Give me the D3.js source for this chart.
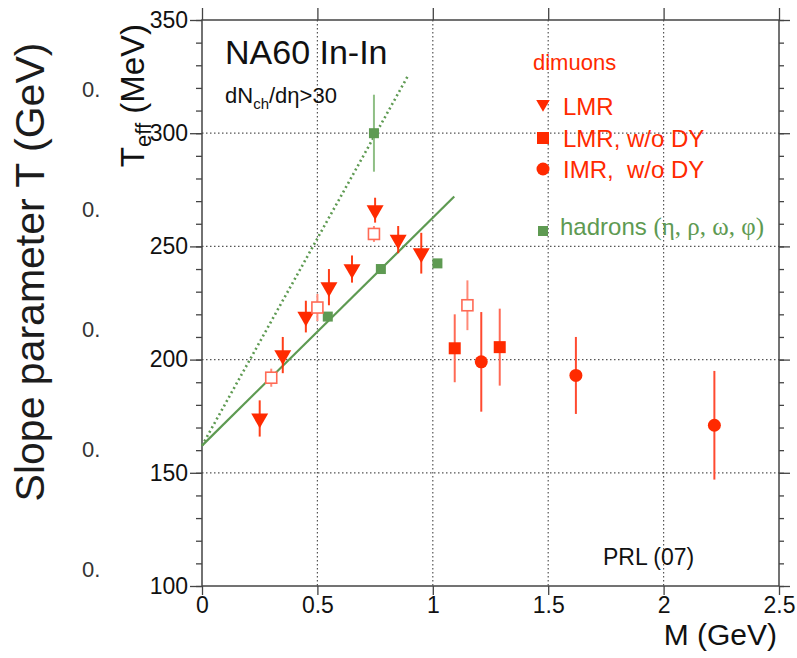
<!DOCTYPE html>
<html><head><meta charset="utf-8">
<script src="https://cdn.jsdelivr.net/npm/d3@7"></script>
<style>
html,body{margin:0;padding:0;background:#fff;}
svg{display:block;}
text{font-family:"Liberation Sans",Arial,sans-serif;}
</style></head>
<body>
<script>
// ---- data ----
const xTicks = [0, 0.5, 1, 1.5, 2, 2.5];
const xTickLabels = ["0", "0.5", "1", "1.5", "2", "2.5"];
const yTicks = [100, 150, 200, 250, 300, 350];
const yTickLabels = ["100", "150", "200", "250", "300", "350"];
const yMinor = d3.range(100, 351, 10);
const lmrM = [0.25, 0.35, 0.45, 0.55, 0.65, 0.75, 0.85, 0.95];
const lmrT = [174, 202, 219, 232, 240, 266, 253, 247];
const lmrErr = [8, 8, 7, 8, 6, 5.5, 6, 9];
const openM = [0.30, 0.50, 0.745, 1.15];
const openT = [192, 223, 255.5, 224];
const openErr = [4, 6, 3.5, 11];
const sqM = [1.095, 1.29];
const sqT = [205, 205.5];
const sqErr = [15, 17];
const imrM = [1.21, 1.62, 2.22];
const imrT = [199, 193, 171];
const imrErr = [22, 17, 24];
const hadM = [0.545, 0.745, 0.775, 1.02];
const hadT = [219, 300, 240, 242.5];
const hadErr = [0, 17, 0, 0];
const fitSolidM = [0, 1.093];
const fitSolidT = [162, 272];
const fitDotM = [0, 0.896];
const fitDotT = [162, 326];
const leftLabels = ["0.", "0.", "0.", "0.", "0."];

const RED = "#ff2a00", GREEN = "#5e9a52";
const W = 797, H = 658;
const svg = d3.select("body").append("svg").attr("width", W).attr("height", H);
const x = d3.scaleLinear().domain([0, 2.5]).range([202, 779]);
const y = d3.scaleLinear().domain([100, 350]).range([586, 20]);

// grid
const g = svg.append("g");
g.selectAll(".vg").data([0.5, 1, 1.5, 2]).join("line")
  .attr("x1", d => x(d)).attr("x2", d => x(d)).attr("y1", y(350)).attr("y2", y(100))
  .attr("stroke", "#555").attr("stroke-width", 1.2).attr("stroke-dasharray", "1.5,2.5");
g.selectAll(".hg").data([150, 200, 250, 300]).join("line")
  .attr("x1", x(0)).attr("x2", x(2.5)).attr("y1", d => y(d)).attr("y2", d => y(d))
  .attr("stroke", "#555").attr("stroke-width", 1.2).attr("stroke-dasharray", "1.5,2.5");

// axes
const axC = "#444";
const yl = d3.axisLeft(y).tickValues(yMinor).tickSize(6).tickFormat("");
svg.append("g").attr("transform", `translate(${x(0)},0)`).call(yl)
  .call(s => { s.select(".domain").remove(); s.selectAll("line").attr("stroke", axC).attr("stroke-width", 1.3); });
const ylM = d3.axisLeft(y).tickValues(yTicks).tickSize(12).tickPadding(2).tickFormat((d, i) => yTickLabels[i]);
svg.append("g").attr("transform", `translate(${x(0)},0)`).call(ylM)
  .call(s => { s.select(".domain").remove(); s.selectAll("line").attr("stroke", axC).attr("stroke-width", 1.3);
    s.selectAll("text").attr("font-size", 23).attr("fill", "#111").attr("font-family", "Liberation Sans"); });
const yr = d3.axisRight(y).tickValues(yMinor).tickSize(5).tickFormat("");
svg.append("g").attr("transform", `translate(${x(2.5)},0)`).call(yr)
  .call(s => { s.select(".domain").remove(); s.selectAll("line").attr("stroke", axC).attr("stroke-width", 1.3); });
const yrM = d3.axisRight(y).tickValues(yTicks).tickSize(11).tickFormat("");
svg.append("g").attr("transform", `translate(${x(2.5)},0)`).call(yrM)
  .call(s => { s.select(".domain").remove(); s.selectAll("line").attr("stroke", axC).attr("stroke-width", 1.3); });
const xb = d3.axisBottom(x).tickValues(xTicks).tickSize(9).tickPadding(2).tickFormat((d, i) => xTickLabels[i]);
svg.append("g").attr("transform", `translate(0,${y(100)})`).call(xb)
  .call(s => { s.select(".domain").remove(); s.selectAll("line").attr("stroke", axC).attr("stroke-width", 1.3);
    s.selectAll("text").attr("font-size", 23).attr("fill", "#111").attr("font-family", "Liberation Sans"); });
const xt = d3.axisTop(x).tickValues(xTicks).tickSize(12).tickFormat("");
svg.append("g").attr("transform", `translate(0,${y(350)})`).call(xt)
  .call(s => { s.select(".domain").remove(); s.selectAll("line").attr("stroke", axC).attr("stroke-width", 1.3); });
// frame
svg.append("rect").attr("x", x(0)).attr("y", y(350)).attr("width", x(2.5) - x(0)).attr("height", y(100) - y(350))
  .attr("fill", "none").attr("stroke", axC).attr("stroke-width", 1.5);

// fit lines
const line = d3.line().x(d => x(d[0])).y(d => y(d[1]));
svg.append("path").datum(fitSolidM.map((m, i) => [m, fitSolidT[i]])).attr("d", line)
  .attr("stroke", GREEN).attr("stroke-width", 2.2).attr("fill", "none");
svg.append("path").datum(fitDotM.map((m, i) => [m, fitDotT[i]])).attr("d", line)
  .attr("stroke", GREEN).attr("stroke-width", 2.6).attr("stroke-dasharray", "2,3").attr("fill", "none");

// error bars
function errBars(ms, ts, es, color, op) {
  svg.append("g").selectAll("line").data(ms.map((m, i) => ({m, t: ts[i], e: es[i]})).filter(d => d.e > 0)).join("line")
    .attr("x1", d => x(d.m)).attr("x2", d => x(d.m)).attr("y1", d => y(d.t - d.e)).attr("y2", d => y(d.t + d.e))
    .attr("stroke", color).attr("stroke-width", 2).attr("opacity", op);
}
errBars(hadM, hadT, hadErr, "#8fbf85", 1);
errBars(lmrM, lmrT, lmrErr, RED, 0.9);
errBars(openM, openT, openErr, "#ff8a78", 1);
errBars(sqM, sqT, sqErr, "#ff6a55", 1);
errBars(imrM, imrT, imrErr, "#ff4a30", 1);

// markers
const tri = d3.symbol(d3.symbolTriangle, 125)();
const data = (ms, ts) => ms.map((m, i) => ({m, t: ts[i]}));
svg.append("g").selectAll("path").data(data(hadM, hadT)).join("rect")
  .attr("x", d => x(d.m) - 5).attr("y", d => y(d.t) - 5).attr("width", 10).attr("height", 10).attr("fill", GREEN);
svg.append("g").selectAll("path").data(data(lmrM, lmrT)).join("path")
  .attr("d", tri).attr("transform", d => `translate(${x(d.m)},${y(d.t)}) rotate(180)`).attr("fill", RED);
svg.append("g").selectAll("rect").data(data(openM, openT)).join("rect")
  .attr("x", d => x(d.m) - 5.5).attr("y", d => y(d.t) - 5.5).attr("width", 11).attr("height", 11)
  .attr("fill", "#fff").attr("stroke", "#ff6a55").attr("stroke-width", 1.6);
svg.append("g").selectAll("rect").data(data(sqM, sqT)).join("rect")
  .attr("x", d => x(d.m) - 6).attr("y", d => y(d.t) - 6).attr("width", 12).attr("height", 12).attr("fill", RED);
svg.append("g").selectAll("circle").data(data(imrM, imrT)).join("circle")
  .attr("cx", d => x(d.m)).attr("cy", d => y(d.t)).attr("r", 6.5).attr("fill", RED);

// texts
svg.append("text").attr("x", 225).attr("y", 64).attr("font-size", 34).attr("fill", "#111").text("NA60 In-In");
const dn = svg.append("text").attr("x", 225).attr("y", 103).attr("font-size", 22).attr("fill", "#111");
dn.append("tspan").text("dN");
dn.append("tspan").attr("font-size", 15).attr("dy", 6).text("ch");
dn.append("tspan").attr("dy", -6).text("/d\u03b7>30");

svg.append("text").attr("x", 533).attr("y", 70).attr("font-size", 22).attr("fill", RED).text("dimuons");
const legItems = [
  {label: "LMR", y: 115},
  {label: "LMR, w/o DY", y: 147},
  {label: "IMR,\u00a0 w/o DY", y: 178}
];
svg.selectAll(".leg").data(legItems).join("text").attr("x", 563).attr("y", d => d.y)
  .attr("font-size", 24).attr("fill", RED).text(d => d.label);
svg.append("path").attr("d", d3.symbol(d3.symbolTriangle, 80)()).attr("transform", "translate(543,104) rotate(180)").attr("fill", RED);
svg.append("rect").attr("x", 537).attr("y", 132).attr("width", 12).attr("height", 12).attr("fill", RED);
svg.append("circle").attr("cx", 543).attr("cy", 169).attr("r", 6.5).attr("fill", RED);
svg.append("rect").attr("x", 538).attr("y", 226).attr("width", 10).attr("height", 10).attr("fill", GREEN);
const hd = svg.append("text").attr("x", 560).attr("y", 235).attr("font-size", 24).attr("fill", GREEN);
hd.append("tspan").text("hadrons ");
hd.append("tspan").attr("font-family", "Liberation Serif").attr("font-size", 25).text("(\u03b7, \u03c1, \u03c9, \u03c6)");

svg.append("text").attr("x", 603).attr("y", 565).attr("font-size", 23).attr("font-family", "Open Sans").attr("fill", "#111").text("PRL (07)");

svg.append("text").attr("x", 777).attr("y", 645).attr("text-anchor", "end").attr("font-size", 30).attr("fill", "#111").text("M (GeV)");

const ty = svg.append("text").attr("transform", "translate(144,24) rotate(-90)").attr("text-anchor", "end")
  .attr("font-size", 33).attr("fill", "#111");
ty.append("tspan").text("T");
ty.append("tspan").attr("font-size", 22).attr("dy", 7).text("eff");
ty.append("tspan").attr("dy", -7).text(" (MeV)");

svg.append("text").attr("transform", "translate(44,272) rotate(-90)").attr("text-anchor", "middle")
  .attr("font-size", 41).attr("fill", "#1c1c1c").text("Slope parameter T (GeV)");

svg.selectAll(".ll").data(leftLabels).join("text").attr("x", 82).attr("y", (d, i) => 89 + i * 120).attr("dy", "0.35em")
  .attr("font-size", 22).attr("fill", "#333").text(d => d);
</script>
</body></html>
